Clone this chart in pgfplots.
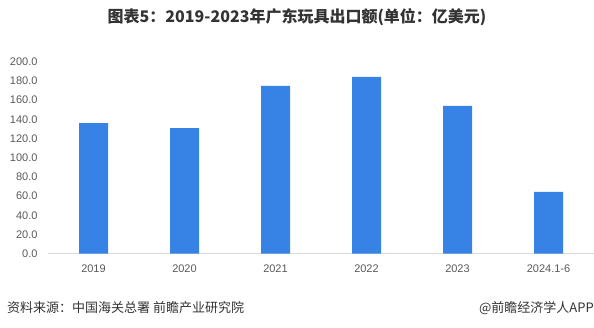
\documentclass[border=0pt]{standalone}
\usepackage{fontspec}
\setmainfont{Liberation Sans}
\newfontfamily\cjk{Noto Sans CJK SC}
\usepackage{pgfplots}
\pgfplotsset{compat=1.18}
\definecolor{barblue}{HTML}{3683E5}
\definecolor{ticktext}{HTML}{595959}
\definecolor{axisgray}{HTML}{D9D9D9}
\definecolor{titletext}{HTML}{333333}
\begin{document}
\begin{tikzpicture}[x=1pt,y=1pt]
\useasboundingbox (0,0) rectangle (594,327);
\begin{axis}[
  at={(48pt,73.3pt)}, anchor=south west,
  scale only axis, width=546pt, height=192pt,
  xmin=-0.5, xmax=5.5, ymin=0, ymax=200,
  axis x line*=bottom, axis y line*=left,
  x axis line style={axisgray, line width=0.8pt, -},
  y axis line style={draw=none},
  ybar, bar width=29pt,
  xtick=data,
  xticklabels={2019,2020,2021,2022,2023,2024.1-6},
  ytick={0,20,...,200},
  major tick length=0pt,
  /pgf/number format/assume math mode=true,
  yticklabel={\pgfmathprintnumber[fixed,fixed zerofill,precision=1]{\tick}},
  yticklabel style={font=\fontsize{11}{12}\selectfont, text=ticktext, xshift=-7pt},
  xticklabel style={font=\fontsize{11}{12}\selectfont, text=ticktext, yshift=-8pt},
]
\addplot[fill=barblue, draw=none] coordinates {(0,136.1) (1,130.9) (2,174.7) (3,184.1) (4,153.9) (5,64.3)};
\end{axis}
\node[font=\cjk\bfseries\fontsize{16}{18}\selectfont, text=titletext] at (297,310) {图表5：2019-2023年广东玩具出口额(单位：亿美元)};
\node[anchor=west, font=\cjk\fontsize{13}{14}\selectfont, text=titletext, inner sep=0pt] at (7,19) {资料来源：中国海关总署 前瞻产业研究院};
\node[anchor=east, font=\cjk\fontsize{13}{14}\selectfont, text=titletext, inner sep=0pt] at (594,19) {@前瞻经济学人APP};
\end{tikzpicture}
\end{document}
